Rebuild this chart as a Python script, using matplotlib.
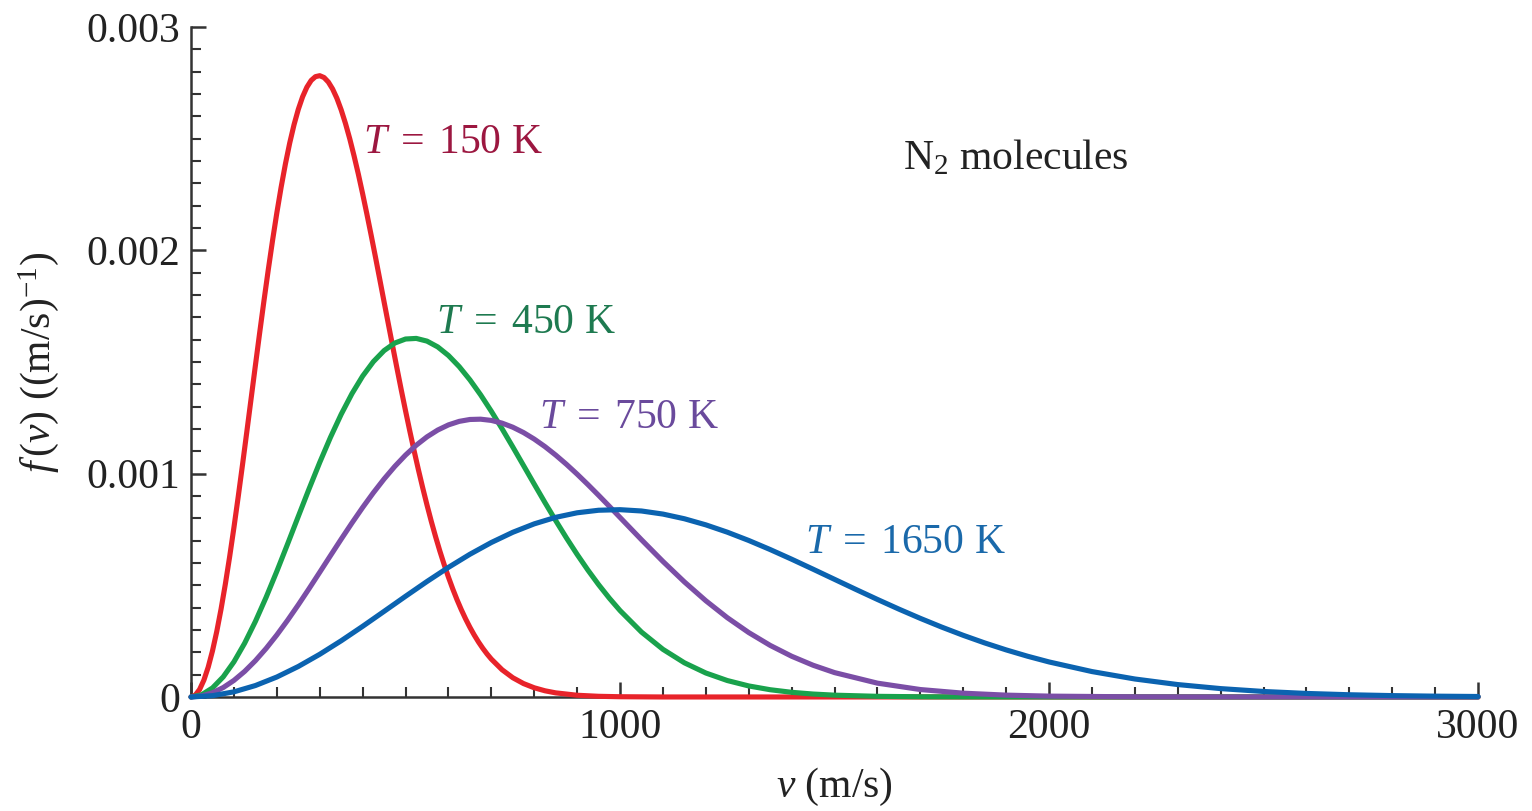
import matplotlib
matplotlib.use("Agg")
import matplotlib.pyplot as plt
from matplotlib.ticker import MultipleLocator, FixedLocator

plt.rcParams["font.family"] = ["Liberation Serif", "DejaVu Serif"]
plt.rcParams["mathtext.fontset"] = "custom"
plt.rcParams["mathtext.rm"] = "Liberation Serif"
plt.rcParams["mathtext.it"] = "Liberation Serif:italic"
plt.rcParams["mathtext.bf"] = "Liberation Serif:bold"

# Speed distributions f(v) of N2 molecules, in (m/s)^-1
v_150 = list(range(0, 701, 10)) + [725, 750, 775, 800, 825, 850, 900, 950, 1000, 1100, 3000]
f_150 = [0.0, 0.0000085, 0.0000338, 0.0000757, 0.0001335, 0.0002065, 0.0002937, 0.0003939,
         0.0005059, 0.0006282, 0.0007591, 0.0008972, 0.0010405, 0.0011873, 0.0013359,
         0.0014844, 0.0016312, 0.0017744, 0.0019126, 0.0020443, 0.0021680, 0.0022827,
         0.0023871, 0.0024805, 0.0025620, 0.0026311, 0.0026874, 0.0027306, 0.0027608,
         0.0027777, 0.0027820, 0.0027738, 0.0027537, 0.0027224, 0.0026807, 0.0026288,
         0.0025679, 0.0024992, 0.0024228, 0.0023410, 0.0022531, 0.0021613, 0.0020662,
         0.0019687, 0.0018691, 0.0017689, 0.0016693, 0.0015703, 0.0014720, 0.0013752,
         0.0012812, 0.0011901, 0.0011021, 0.0010174, 0.0009366, 0.0008597, 0.0007865,
         0.0007178, 0.0006532, 0.0005929, 0.0005365, 0.0004840, 0.0004354, 0.0003907,
         0.0003496, 0.0003120, 0.0002777, 0.0002464, 0.0002181, 0.0001925, 0.0001695,
         0.0001219, 0.0000862, 0.0000600, 0.0000411, 0.0000277, 0.0000184, 0.0000077,
         0.0000030, 0.0000011, 0.0, 0.0]

v_450 = list(range(0, 1001, 25)) + [1050, 1100, 1150, 1200, 1250, 1300, 1350, 1400, 1450,
                                    1500, 1600, 1700, 1800, 2000, 3000]
f_450 = [0.0, 0.00001019, 0.00004049, 0.00009003, 0.00015746, 0.00024090, 0.00033809,
         0.00044638, 0.00056293, 0.00068467, 0.00080852, 0.00093141, 0.00105037,
         0.00116270, 0.00126590, 0.00135786, 0.00143686, 0.00150156, 0.00155105,
         0.00158484, 0.00160290, 0.00160555, 0.00159345, 0.00156756, 0.00152909,
         0.00147942, 0.00142016, 0.00135289, 0.00127927, 0.00120094, 0.00111947,
         0.00103636, 0.00095295, 0.00087046, 0.00078995, 0.00071229, 0.00063823,
         0.00056833, 0.00050298, 0.00044247, 0.00038689, 0.00029061, 0.00021328,
         0.00015298, 0.00010730, 0.00007360, 0.00004939, 0.00003243, 0.00002085,
         0.00001312, 0.00000808, 0.00000288, 0.00000095, 0.0000003, 0.0, 0.0]

v_750 = list(range(0, 1001, 25)) + [1050, 1100, 1150, 1200, 1250, 1300, 1350, 1400, 1450,
                                    1500, 1600, 1700, 1800, 1900, 2000, 2200, 2400, 3000]
f_750 = [0.0, 0.000004741, 0.000018886, 0.000042196, 0.000074282, 0.00011461, 0.00016251,
         0.00021719, 0.00027777, 0.00034326, 0.00041262, 0.00048477, 0.00055858,
         0.00063295, 0.00070678, 0.00077898, 0.00084856, 0.00091457, 0.00097618,
         0.00103260, 0.00108320, 0.00112743, 0.00116487, 0.00119523, 0.00121833,
         0.00123408, 0.00124257, 0.00124390, 0.00123835, 0.00122624, 0.00120795,
         0.00118396, 0.00115475, 0.00112100, 0.00108312, 0.00104182, 0.00099765,
         0.00095119, 0.00090303, 0.00085373, 0.00080378, 0.00070394, 0.00060685,
         0.00051516, 0.00043081, 0.00035502, 0.00028836, 0.00023093, 0.00018236,
         0.00014203, 0.00010913, 0.00006189, 0.00003329, 0.00001700, 0.00000825,
         0.00000381, 0.0000007, 0.0000001, 0.0]

v_1650 = list(range(0, 2001, 50)) + list(range(2100, 3001, 100))
f_1650 = [0.0, 0.000005806, 0.000023045, 0.000051194, 0.000089399, 0.00013651, 0.00019114,
          0.00025167, 0.00031636, 0.00038340, 0.00045092, 0.00051714, 0.00058034,
          0.00063899, 0.00069172, 0.00073742, 0.00077520, 0.00080442, 0.00082476,
          0.00083615, 0.00083868, 0.00083279, 0.00081898, 0.00079799, 0.00077067,
          0.00073792, 0.00070074, 0.00066004, 0.00061686, 0.00057211, 0.00052667,
          0.00048127, 0.00043665, 0.00039337, 0.00035193, 0.00031272, 0.00027601,
          0.00024198, 0.00021078, 0.00018240, 0.00015684, 0.00011377, 0.000080494,
          0.000055568, 0.000037447, 0.000024632, 0.000015832, 0.000009944, 0.000006095,
          0.000003653, 0.000002141]

series = [
    (v_150, f_150, "#e8232a", "#9c1740", r"$T\;=\;$150 K", (400, 0.00248)),
    (v_450, f_450, "#19a24c", "#1e7a50", r"$T\;=\;$450 K", (572, 0.001675)),
    (v_750, f_750, "#7b4ea6", "#6a4a9c", r"$T\;=\;$750 K", (812, 0.001249)),
    (v_1650, f_1650, "#0b63b0", "#1a69aa", r"$T\;=\;$1650 K", (1432, 0.00069)),
]

fig = plt.figure(figsize=(15.32, 8.11), dpi=100)
ax = fig.add_axes([0.1247, 0.1406, 0.8401, 0.8261])

for v, f, color, tcolor, label, pos in series:
    ax.plot(v, f, color=color, lw=3.7, solid_capstyle="round", zorder=3, clip_on=False)
    ax.text(pos[0], pos[1], label, color=tcolor, fontsize=30, ha="left", va="center")

ax.text(1660, 0.002413, "N$_2$ molecules", color="#222222", fontsize=30,
        ha="left", va="center")

ax.set_xlim(0, 3000)
ax.set_ylim(0, 0.003)

ax.spines["top"].set_visible(False)
ax.spines["right"].set_visible(False)
for side in ("left", "bottom"):
    ax.spines[side].set_color("#333333")
    ax.spines[side].set_linewidth(1.8)
    ax.spines[side].set_zorder(2)

ax.xaxis.set_major_locator(FixedLocator([0, 1000, 2000, 3000]))
ax.xaxis.set_minor_locator(MultipleLocator(100))
ax.yaxis.set_major_locator(FixedLocator([0, 0.001, 0.002, 0.003]))
ax.yaxis.set_minor_locator(MultipleLocator(0.0001))
ax.set_xticklabels(["0", "1000", "2000", "3000"])
ax.set_yticklabels(["0", "0.001", "0.002", "0.003"])

ax.tick_params(which="both", direction="in", color="#333333", labelsize=30,
               labelcolor="#222222")
ax.tick_params(which="major", length=11, width=1.8, pad=8)
ax.tick_params(which="minor", length=7, width=1.5)

ax.set_xlabel("$v$ (m/s)", fontsize=30, color="#222222", labelpad=14)
ax.set_ylabel("$f\\,(v)$ ((m/s)$^{-1}$)", fontsize=30, color="#222222", labelpad=18)

fig.savefig("out.png", dpi=100, facecolor="white")
